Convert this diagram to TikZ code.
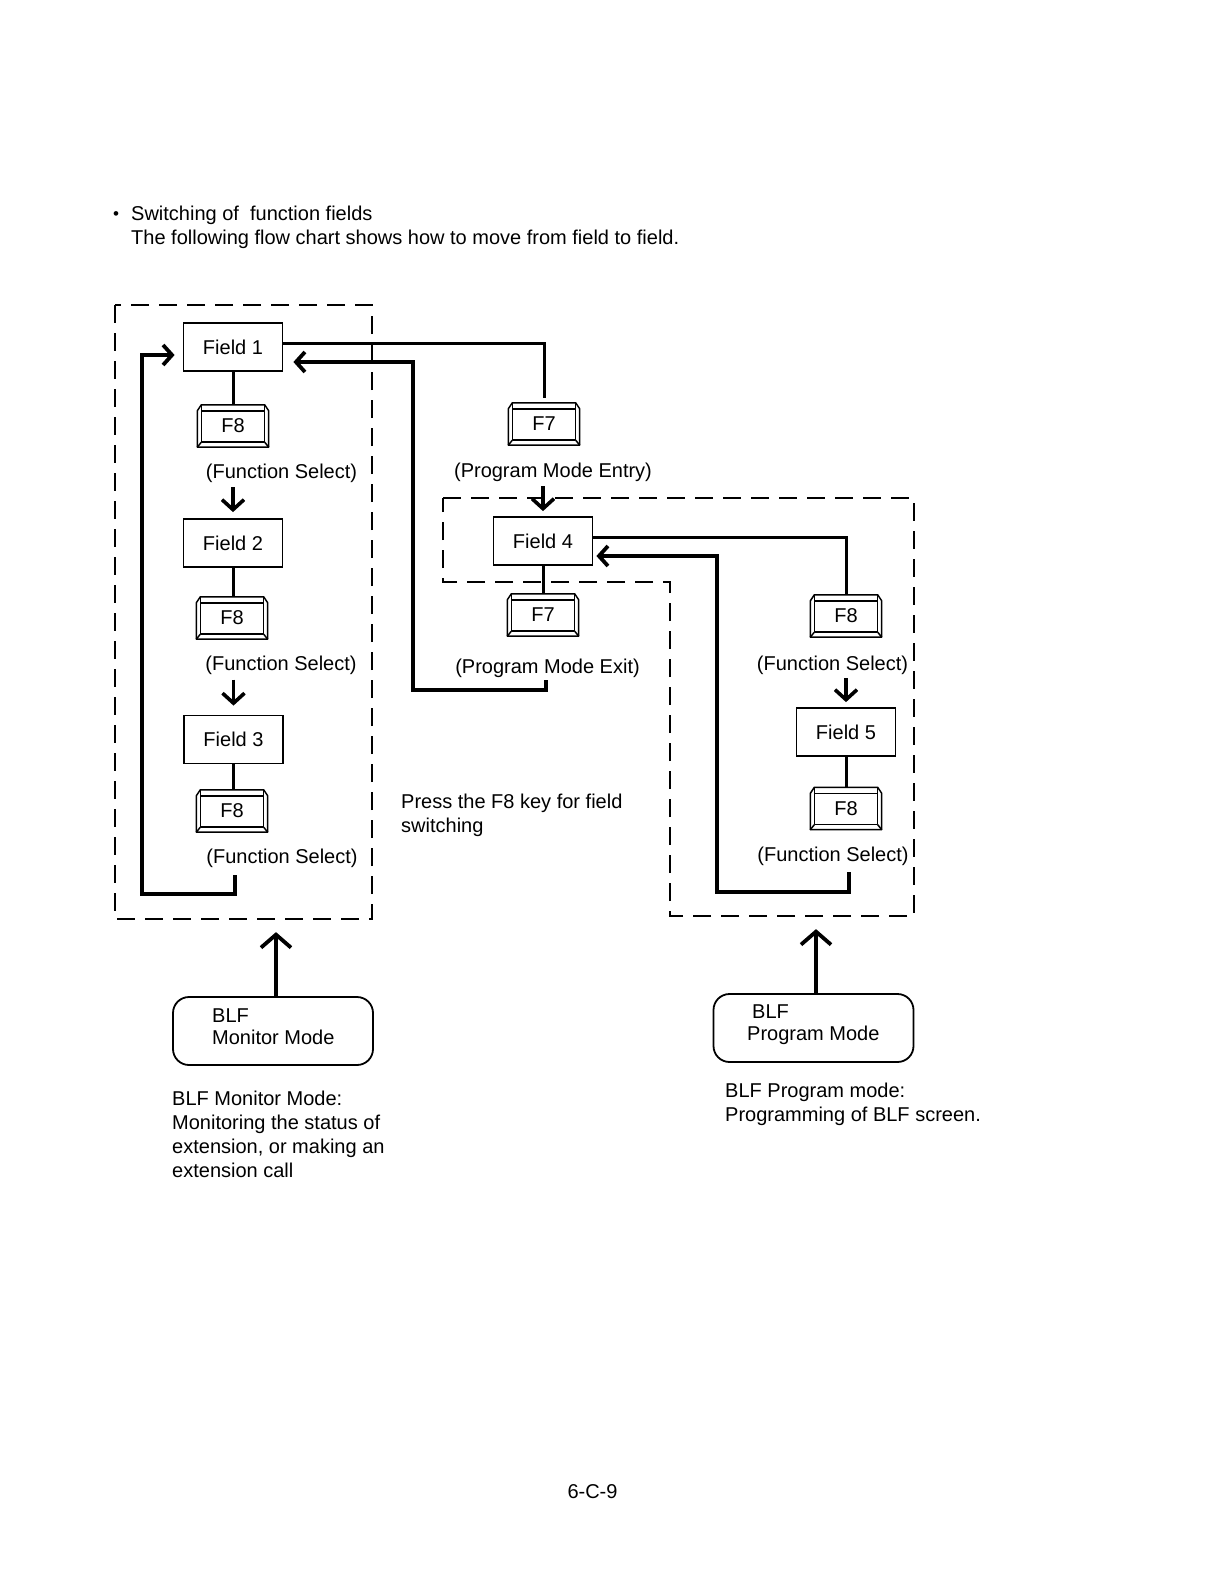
\documentclass[tikz,border=0pt]{standalone}
\usepackage{fontspec}
\setmainfont{Liberation Sans}
\usetikzlibrary{arrows.meta,calc}
\tikzset{
  every node/.style={font=\fontsize{20}{24}\selectfont, inner sep=0pt},
  fieldbox/.style={draw, line width=1.8pt, minimum width=99pt, minimum height=48pt},
  keycap/.style={minimum width=71pt, minimum height=42pt},
  keyline/.style={line width=1.5pt, line join=round},
  conn/.style={line width=3pt},
  loopline/.style={line width=3.8pt, line join=miter, -{Straight Barb[length=9pt,width=20pt]}},
  groupline/.style={line width=2pt, dash pattern=on 18pt off 10pt},
  darrow/.style={line width=3.6pt, -{Straight Barb[length=10pt,width=22pt]}},
  uarrow/.style={line width=3.8pt, -{Straight Barb[length=13pt,width=30pt]}},
  modebox/.style={draw, line width=1.8pt, rounded corners=16pt, minimum width=200pt, minimum height=68pt},
  boxtext/.style={anchor=west, align=left, font=\fontsize{20}{22}\selectfont},
}
\newcommand\drawkeycap[1]{%
  \draw[keyline] ($(#1.north west)+(4,0)$) -- ($(#1.north east)+(-4,0)$) -- ($(#1.north east)+(0,6)$) -- (#1.south east) -- (#1.south west) -- ($(#1.north west)+(0,6)$) -- cycle;
  \draw[keyline] ($(#1.north west)+(4,0)$) -- ($(#1.south west)+(4,-5)$) -- ($(#1.south east)+(-4,-5)$) -- ($(#1.north east)+(-4,0)$);
  \draw[keyline] ($(#1.north west)+(4,6)$) -- ($(#1.north east)+(-4,6)$);
  \draw[keyline] ($(#1.south west)+(4,-5)$) -- (#1.south west);
  \draw[keyline] ($(#1.south east)+(-4,-5)$) -- (#1.south east);
}
\begin{document}
\begin{tikzpicture}[x=1pt, y=-1pt]
\useasboundingbox[fill=white] (0,0) rectangle (1222,1584);

% header
\node (bullet) at (116,216) {\fontsize{17}{17}\selectfont •};
\node[anchor=west] (h1) at (131,215) {Switching of\ \ function fields};
\node[anchor=west] (h2) at (131,239) {The following flow chart shows how to move from field to field.};

% group outlines
\draw[groupline] (115,305) rectangle (372,919);
\draw[groupline] (443,498) -- (914,498) -- (914,916) -- (670,916) -- (670,582) -- (443,582) -- cycle;

% left column
\node[fieldbox] (field1) at (233,347) {Field 1};
\node[keycap] (k1) at (233,426) {F8};
\node (fs1) at (281.5,473) {(Function Select)};
\node[fieldbox] (field2) at (233,543) {Field 2};
\node[keycap] (k2) at (232,618) {F8};
\node (fs2) at (281,665) {(Function Select)};
\node[fieldbox] (field3) at (233.5,739.5) {Field 3};
\node[keycap] (k3) at (232,811) {F8};
\node (fs3) at (282,858) {(Function Select)};
\drawkeycap{k1}
\drawkeycap{k2}
\drawkeycap{k3}

\draw[conn] (field1.south) -- (field1.south |- k1.north);
\draw[conn] (field2.south) -- (field2.south |- k2.north);
\draw[conn] (field3.south) -- (field3.south |- k3.north);
\draw[darrow] ($(field2.north)+(0,-31)$) -- ($(field2.north)+(0,-6)$);
\draw[darrow] ($(field3.north)+(0,-35)$) -- ($(field3.north)+(0,-9)$);

\coordinate (l3) at (235,875);
\draw[loopline] (l3) |- (142,894) |- ($(field1.west)+(-8,8)$);

% middle column
\node[keycap] (f7a) at (544,424) {F7};
\node (pmentry) at (553,472) {(Program Mode Entry)};
\node[fieldbox] (field4) at (543,541) {Field 4};
\node[keycap] (f7b) at (543,615) {F7};
\node (pmexit) at (547.5,668) {(Program Mode Exit)};
\drawkeycap{f7a}
\drawkeycap{f7b}

\draw[conn] ($(field1.east)+(0,-4)$) -| ($(f7a.north)+(0,-5)$);
\draw[darrow] ($(field4.north)+(0,-30)$) -- ($(field4.north)+(0,-5)$);
\draw[conn] (field4.south) -- (f7b.north);
\coordinate (ex) at (546,680);
\draw[loopline] (ex) |- (413,690) |- ($(field1.east)+(10,15)$);

% right column
\node[keycap] (f8c) at (846,616) {F8};
\node (fs4) at (832.5,665) {(Function Select)};
\node[fieldbox] (field5) at (846,732) {Field 5};
\node[keycap] (f8d) at (846,808.5) {F8};
\node (fs5) at (833,856) {(Function Select)};
\drawkeycap{f8c}
\drawkeycap{f8d}

\draw[conn] ($(field4.east)+(0,-4)$) -| (f8c.north);
\draw[darrow] ($(field5.north)+(0,-29)$) -- ($(field5.north)+(0,-5)$);
\draw[conn] (field5.south) -- (f8d.north);
\coordinate (r5) at (849,872);
\draw[loopline] (r5) |- (717,892) |- ($(field4.east)+(3,15)$);

% note
\node[anchor=west, align=left] (press) at (401,815) {Press the F8 key for field\\switching};

% mode boxes
\node[modebox] (blfmon) at (273,1031) {};
\node[boxtext] (blfmontxt) at (212,1027) {BLF\\Monitor Mode};
\node[modebox] (blfprog) at (813.5,1028) {};
\node[boxtext] (blfprogtxt) at (747,1025) {\hspace*{5pt}BLF\\Program Mode};
\draw[uarrow] ($(blfmon.north)+(3,0)$) -- ($(blfmon.north)+(3,-64)$);
\draw[uarrow] ($(blfprog.north)+(2.5,0)$) -- ($(blfprog.north)+(2.5,-64)$);

% descriptions
\node[anchor=west, align=left] (monnote) at (172,1134.5) {BLF Monitor Mode:\\Monitoring the status of\\extension, or making an\\extension call};
\node[anchor=west, align=left] (prognote) at (725,1104) {BLF Program mode:\\Programming of BLF screen.};

\node (page) at (592.5,1492) {6-C-9};
\end{tikzpicture}
\end{document}
